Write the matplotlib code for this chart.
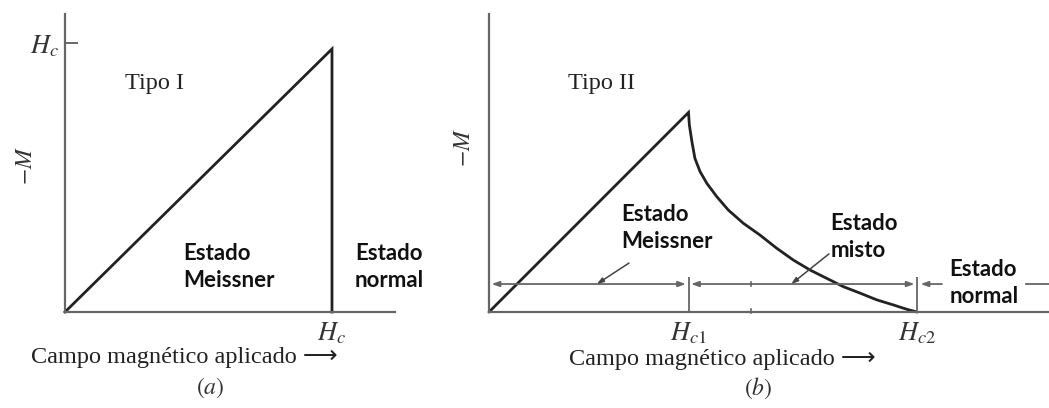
import matplotlib
matplotlib.use("Agg")
import matplotlib.pyplot as plt

plt.rcParams['mathtext.fontset'] = 'stix'

# type I: -M grows linearly up to Hc, then drops to zero
hc_a = 1.0
peak_a = 0.978
h_a = [0.0, hc_a, hc_a]
m_a = [0.0, peak_a, 0.0]

# type II: Meissner branch up to Hc1, then mixed-state decay to Hc2
hc1 = 0.466
hc2 = 1.0
h_b = [0.0, 0.466, 0.468, 0.474, 0.481, 0.493, 0.509, 0.532, 0.559, 0.594,
       0.633, 0.672, 0.711, 0.750, 0.789, 0.828, 0.867, 0.906, 0.945, 0.976, 1.0]
m_b = [0.0, 0.742, 0.695, 0.633, 0.571, 0.522, 0.478, 0.429, 0.379, 0.330,
       0.286, 0.237, 0.193, 0.156, 0.125, 0.094, 0.070, 0.045, 0.026, 0.010, 0.0]

state_y = 0.104   # level of the state-range arrows
ymax = 1.108

axis_col = '#666666'
curve_col = '#222222'
serif = ['Liberation Serif', 'DejaVu Serif']
label_font = dict(family='Lato', fontweight='bold', fontsize=16,
                  color='#111111', linespacing=1.33, va='center', ha='left')

fig = plt.figure(figsize=(10.49, 4.08), dpi=100)
ax1 = fig.add_axes([65 / 1049, 96 / 408, 330 / 1049, 298 / 408])
ax2 = fig.add_axes([489 / 1049, 96 / 408, 560 / 1049, 298 / 408])

for ax in (ax1, ax2):
    for s in ('top', 'right'):
        ax.spines[s].set_visible(False)
    for s in ('left', 'bottom'):
        ax.spines[s].set_color(axis_col)
        ax.spines[s].set_linewidth(1.6)
    ax.set_ylim(0, ymax)

# ---- (a) type I ----
ax1.set_xlim(0, 1.236)
ax1.plot(h_a, m_a, color=curve_col, lw=2.0, solid_joinstyle='miter', clip_on=False)
ax1.set_xticks([hc_a])
ax1.set_xticklabels(['$H_c$'], fontsize=19, color='#333333')
ax1.tick_params(axis='x', length=0, pad=6)
ax1.set_yticks([hc_a])
ax1.set_yticklabels(['$H_c$'], fontsize=19, color='#333333')
ax1.tick_params(axis='y', direction='in', length=9.5, width=1.4, color=axis_col, pad=4)
ax1.text(0.225, 0.851, 'Tipo I', family=serif, fontsize=17.5, color='#222222',
         ha='left', va='center')
ax1.text(0.442, 0.167, 'Estado\nMeissner', **label_font)
ax1.text(1.086, 0.167, 'Estado\nnormal', **label_font)
ax1.text(-0.15, 0.545, '$-M$', rotation=90, fontsize=17, color='#333333',
         ha='center', va='center')
fig.text(184 / 1049, 1 - 357 / 408, 'Campo magnético aplicado ⟶',
         family=['Liberation Serif', 'DejaVu Sans'], fontsize=17.5, color='#222222',
         ha='center', va='center')
fig.text(210 / 1049, 1 - 388 / 408, '$(a)$', fontsize=17, color='#333333',
         ha='center', va='center')

# ---- (b) type II ----
ax2.set_xlim(0, 1.308)
ax2.plot(h_b, m_b, color=curve_col, lw=2.0, solid_joinstyle='miter',
         solid_capstyle='round', clip_on=False)
ax2.set_yticks([])
ax2.set_xticks([hc1, hc2])
ax2.set_xticklabels(['$H_{c1}$', '$H_{c2}$'], fontsize=19, color='#333333')
ax2.tick_params(axis='x', length=0, pad=6)
ax2.vlines([hc1, hc2], 0, 0.13, color=axis_col, lw=1.3)
ax2.plot([0.612, 0.612], [state_y - 0.006, state_y + 0.006], color=axis_col, lw=1.2)
ax2.plot([0.612, 0.612], [-0.004, 0.01], color=axis_col, lw=1.2, clip_on=False)

arrow = dict(arrowstyle='<|-|>,head_length=0.45,head_width=0.16', color=axis_col,
             lw=1.3, shrinkA=0, shrinkB=0)
ax2.annotate('', xy=(hc1 - 0.006, state_y), xytext=(0.006, state_y), arrowprops=arrow)
ax2.annotate('', xy=(hc2 - 0.006, state_y), xytext=(hc1 + 0.006, state_y), arrowprops=arrow)
ax2.annotate('', xy=(hc2 + 0.008, state_y), xytext=(1.058, state_y),
             arrowprops=dict(arrowstyle='-|>,head_length=0.45,head_width=0.16',
                             color=axis_col, lw=1.3, shrinkA=0, shrinkB=0))
ax2.plot([1.255, 1.308], [state_y, state_y], color=axis_col, lw=1.3, clip_on=False)

pointer = dict(arrowstyle='-|>,head_length=0.4,head_width=0.14', color='#444444',
               lw=1.1, shrinkA=0, shrinkB=0)
ax2.annotate('', xy=(0.252, state_y), xytext=(0.327, 0.182), arrowprops=pointer)
ax2.annotate('', xy=(0.706, state_y), xytext=(0.794, 0.216), arrowprops=pointer)

ax2.text(0.185, 0.851, 'Tipo II', family=serif, fontsize=17.5, color='#222222',
         ha='left', va='center')
ax2.text(0.308, 0.312, 'Estado\nMeissner', **label_font)
ax2.text(0.797, 0.279, 'Estado\nmisto', **label_font)
ax2.text(1.075, 0.108, 'Estado\nnormal', **label_font)
ax2.text(-0.061, 0.61, '$-M$', rotation=90, fontsize=17, color='#333333',
         ha='center', va='center')
fig.text(722 / 1049, 1 - 359 / 408, 'Campo magnético aplicado ⟶',
         family=['Liberation Serif', 'DejaVu Sans'], fontsize=17.5, color='#222222',
         ha='center', va='center')
fig.text(758 / 1049, 1 - 388 / 408, '$(b)$', fontsize=17, color='#333333',
         ha='center', va='center')

fig.savefig('out.png', dpi=100, facecolor='white')
